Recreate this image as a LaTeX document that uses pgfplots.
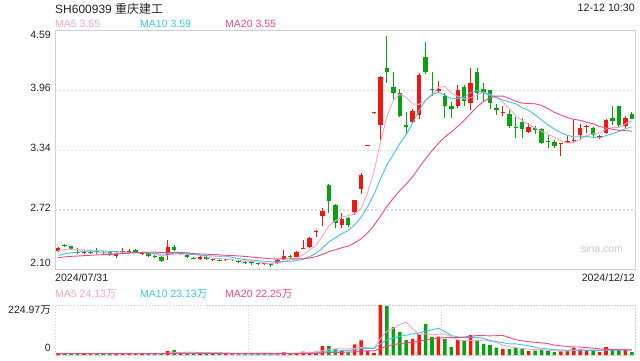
\documentclass[border=0pt]{standalone}
\usepackage{fontspec}
\setmainfont{Liberation Sans}
\newfontfamily\cjk{Noto Sans CJK SC}
\usepackage{pgfplots}
\pgfplotsset{compat=1.18}
\usepackage{pgfplotstable}
\definecolor{cred}{RGB}{240,24,16}
\definecolor{cgreen}{RGB}{10,160,20}
\definecolor{ma5}{RGB}{246,166,196}
\definecolor{ma10}{RGB}{64,196,228}
\definecolor{ma20}{RGB}{238,72,128}
\definecolor{frame}{RGB}{208,208,208}
\definecolor{gridc}{RGB}{222,222,222}
\definecolor{txt}{RGB}{35,35,35}

\pgfplotstableread{
x o h l c v
0 2.29 2.33 2.28 2.32 8
4 2.27 2.30 2.26 2.28 6
9 2.24 2.28 2.22 2.27 7
10 2.28 2.32 2.26 2.29 6
11 2.28 2.31 2.27 2.29 5
13 2.26 2.27 2.25 2.265 5
17 2.25 2.41 2.20 2.33 18
19 2.26 2.28 2.25 2.265 8
22 2.21 2.24 2.20 2.23 7
24 2.20 2.21 2.19 2.205 5
26 2.20 2.21 2.19 2.205 4
32 2.16 2.17 2.15 2.165 5
34 2.17 2.21 2.16 2.20 7
35 2.21 2.30 2.20 2.24 12
37 2.235 2.29 2.23 2.28 9
38 2.31 2.41 2.31 2.32 15
39 2.33 2.44 2.32 2.43 14
40 2.49 2.51 2.44 2.50 15
41 2.66 2.74 2.55 2.71 40
44 2.56 2.69 2.53 2.63 20
46 2.70 2.82 2.67 2.82 48
47 2.94 3.10 2.89 3.08 66
48 3.385 3.39 3.385 3.39 17
49 3.725 3.73 3.725 3.73 9
50 3.60 4.11 3.45 4.10 224.97
55 3.63 3.77 3.61 3.75 73
56 3.71 4.14 3.66 4.12 94
59 3.96 4.06 3.94 3.98 83
62 3.80 4.02 3.78 3.97 67
64 3.83 4.20 3.76 4.04 90
69 3.73 3.80 3.70 3.74 28
73 3.53 3.62 3.52 3.585 18
78 3.40 3.42 3.28 3.41 16
79 3.42 3.50 3.41 3.44 20
80 3.44 3.65 3.43 3.45 33
81 3.50 3.61 3.45 3.57 25
82 3.58 3.60 3.52 3.59 22
84 3.48 3.50 3.46 3.49 13
85 3.52 3.66 3.51 3.655 35
88 3.59 3.70 3.57 3.68 24
}\redtab

\pgfplotstableread{
x o h l c v
1 2.35 2.36 2.33 2.34 7
2 2.34 2.345 2.30 2.31 7
3 2.28 2.32 2.26 2.27 6
5 2.28 2.29 2.26 2.27 5
6 2.29 2.32 2.26 2.28 6
7 2.28 2.29 2.26 2.27 5
8 2.28 2.28 2.24 2.25 6
12 2.30 2.31 2.27 2.28 6
14 2.27 2.27 2.23 2.24 6
15 2.24 2.25 2.22 2.23 5
16 2.23 2.24 2.18 2.19 7
18 2.33 2.35 2.29 2.30 22
20 2.25 2.26 2.22 2.23 9
21 2.22 2.23 2.21 2.215 6
23 2.23 2.24 2.20 2.21 7
25 2.20 2.21 2.19 2.195 5
27 2.205 2.21 2.19 2.20 5
28 2.19 2.20 2.17 2.18 5
29 2.18 2.19 2.16 2.17 5
30 2.17 2.18 2.15 2.165 4
31 2.165 2.17 2.15 2.16 4
33 2.16 2.16 2.13 2.15 5
36 2.24 2.25 2.21 2.23 6
42 2.98 2.99 2.69 2.81 40
43 2.77 2.78 2.53 2.58 27
45 2.64 2.65 2.54 2.56 12
51 4.19 4.53 4.04 4.15 220
52 4.00 4.15 3.86 3.93 125
53 3.93 3.98 3.69 3.70 103
54 3.60 3.74 3.50 3.58 67
57 4.31 4.47 4.13 4.15 140
58 3.98 4.15 3.90 3.97 80
60 3.90 3.93 3.68 3.80 73
61 3.80 3.845 3.68 3.77 36
63 4.00 4.02 3.80 3.85 64
65 4.15 4.19 3.86 3.93 64
66 3.98 4.04 3.85 3.94 50
67 3.97 3.97 3.77 3.83 45
68 3.78 3.82 3.71 3.76 33
70 3.72 3.76 3.57 3.59 27
71 3.585 3.69 3.465 3.575 31
72 3.63 3.67 3.47 3.56 28
74 3.57 3.59 3.51 3.555 20
75 3.56 3.57 3.40 3.41 22
76 3.44 3.50 3.36 3.43 20
77 3.43 3.45 3.36 3.385 13
83 3.575 3.58 3.47 3.50 18
86 3.68 3.80 3.60 3.64 24
87 3.80 3.80 3.58 3.60 25
89 3.72 3.74 3.66 3.665 12.6
}\greentab

\pgfplotstableread{
x m5 m10 m20 v5 v10 v20
0 2.296 2.248 2.224 6.4 6.2 6.1
1 2.308 2.262 2.231 6.6 6.3 6.15
2 2.312 2.273 2.237 6.8 6.4 6.2
3 2.308 2.280 2.240 6.8 6.4 6.2
4 2.304 2.288 2.244 6.8 6.4 6.2
5 2.294 2.295 2.248 6.2 6.3 6.15
6 2.282 2.295 2.252 6.0 6.3 6.15
7 2.274 2.293 2.255 5.6 6.2 6.1
8 2.270 2.289 2.258 5.6 6.2 6.1
9 2.268 2.286 2.261 5.8 6.3 6.15
10 2.272 2.283 2.266 6.0 6.1 6.15
11 2.274 2.278 2.270 5.8 5.9 6.1
12 2.276 2.275 2.274 6.0 5.8 6.1
13 2.279 2.275 2.277 5.8 5.7 6.05
14 2.273 2.271 2.279 5.6 5.7 6.05
15 2.261 2.267 2.281 5.4 5.7 6.0
16 2.241 2.258 2.276 5.8 5.8 6.05
17 2.251 2.264 2.278 8.2 7.1 6.65
18 2.258 2.269 2.279 11.6 8.7 7.45
19 2.263 2.268 2.277 12.0 8.8 7.55
20 2.263 2.262 2.273 12.8 9.1 7.6
21 2.268 2.255 2.266 12.6 9.2 7.55
22 2.248 2.250 2.262 10.4 9.3 7.55
23 2.230 2.244 2.259 7.4 9.5 7.6
24 2.218 2.241 2.256 6.8 9.4 7.55
25 2.211 2.237 2.252 6.0 9.4 7.55
26 2.209 2.239 2.248 5.6 9.1 7.45
27 2.203 2.226 2.245 5.2 7.8 7.45
28 2.197 2.214 2.241 4.8 6.1 7.4
29 2.190 2.204 2.236 4.8 5.8 7.3
30 2.184 2.198 2.230 4.6 5.3 7.2
31 2.175 2.192 2.223 4.6 5.1 7.15
32 2.168 2.186 2.218 4.6 4.9 7.1
33 2.162 2.180 2.212 4.6 4.7 7.1
34 2.168 2.179 2.210 5.0 4.9 7.15
35 2.183 2.184 2.210 6.6 5.6 7.5
36 2.197 2.186 2.212 7.0 5.8 7.45
37 2.220 2.194 2.210 7.8 6.2 7.0
38 2.254 2.208 2.211 9.8 7.2 6.65
39 2.300 2.234 2.219 11.2 8.1 6.95
40 2.352 2.268 2.233 11.8 9.2 7.25
41 2.448 2.323 2.257 18.6 12.8 8.95
42 2.554 2.387 2.286 24.8 16.3 10.6
43 2.606 2.430 2.305 27.2 18.5 11.6
44 2.646 2.473 2.326 28.4 19.8 12.35
45 2.658 2.505 2.344 27.8 19.8 12.7
46 2.680 2.564 2.375 29.4 24.0 14.9
47 2.734 2.644 2.419 34.6 29.7 17.95
48 2.896 2.751 2.480 32.6 29.9 18.55
49 3.116 2.881 2.558 30.4 29.4 18.75
50 3.424 3.041 2.654 73.0 50.4 29.8
51 3.690 3.185 2.754 107.4 68.4 40.6
52 3.860 3.297 2.842 119.2 76.9 46.6
53 3.922 3.409 2.920 136.4 84.5 51.5
54 3.892 3.504 2.989 148.0 89.2 54.5
55 3.822 3.623 3.064 117.6 95.3 57.5
56 3.816 3.753 3.159 92.4 99.9 61.9
57 3.860 3.860 3.252 95.4 107.3 68.5
58 3.914 3.918 3.335 90.8 113.6 71.7
59 3.994 3.943 3.412 94.0 121.0 75.2
60 4.004 3.913 3.477 94.0 105.8 78.1
61 3.934 3.875 3.530 82.4 87.4 77.9
62 3.898 3.879 3.588 67.8 81.6 79.2
63 3.874 3.894 3.652 64.6 77.7 81.1
64 3.886 3.940 3.722 66.0 80.0 84.6
65 3.912 3.958 3.791 64.2 79.1 87.2
66 3.946 3.940 3.847 67.0 74.7 87.3
67 3.918 3.908 3.884 62.6 65.2 86.2
68 3.900 3.887 3.903 56.4 60.5 87.0
69 3.840 3.863 3.903 44.0 55.0 88.0
70 3.772 3.842 3.878 36.6 50.4 78.1
71 3.699 3.823 3.849 32.8 49.9 68.7
72 3.645 3.782 3.830 29.4 46.0 63.8
73 3.610 3.755 3.825 26.4 41.4 59.6
74 3.573 3.707 3.823 24.8 34.4 57.2
75 3.537 3.655 3.806 23.8 30.2 54.7
76 3.508 3.604 3.772 21.6 27.2 51.0
77 3.473 3.559 3.734 18.6 24.0 44.6
78 3.438 3.524 3.706 18.2 22.3 41.4
79 3.415 3.494 3.679 18.2 21.5 38.3
80 3.423 3.480 3.661 20.4 22.1 36.3
81 3.451 3.480 3.651 21.4 21.5 35.7
82 3.492 3.483 3.632 23.2 20.9 33.5
83 3.510 3.474 3.615 23.6 20.9 31.2
84 3.520 3.468 3.587 22.2 20.2 27.3
85 3.561 3.492 3.573 22.6 21.5 25.9
86 3.575 3.513 3.558 22.4 21.9 24.6
87 3.577 3.535 3.547 23.0 23.1 23.6
88 3.613 3.562 3.543 24.2 23.9 23.1
89 3.648 3.584 3.539 24.1 23.2 22.3
}\matab

\begin{document}
\begin{tikzpicture}
\path[use as bounding box] (0,0) rectangle (640pt,360pt);
\begin{axis}[at={(55pt,90.5pt)}, anchor=south west, scale only axis,
  width=580pt, height=239.5pt,
  xmin=-0.5, xmax=89.5, ymin=2.10, ymax=4.59,
  axis line style={draw=frame, line width=0.8pt},
  major tick length=0pt,
  ytick={2.10,2.72,3.34,3.96,4.59},
  yticklabels={\raisebox{2.75pt}{2.10},\raisebox{-1.75pt}{2.72},\raisebox{-1.45pt}{3.34},\raisebox{-1.15pt}{3.96},\raisebox{-8.25pt}{4.59}},
  yticklabel style={anchor=base east, inner sep=0pt, xshift=-4pt, font=\fontsize{10.5}{12}\selectfont, text=txt},
  extra y ticks={2.72,3.34,3.96}, extra y tick labels={},
  extra y tick style={grid=major, grid style={draw=gridc, line width=1.4pt, dash pattern=on 2pt off 2pt}},
  xtick={-0.5}, xticklabels={2024/07/31},
  xticklabel style={anchor=north west, inner sep=0pt, yshift=-4pt, font=\fontsize{10.6}{12}\selectfont, text=txt},
  extra x ticks={89.5}, extra x tick labels={2024/12/12},
  extra x tick style={xticklabel style={anchor=north east}},
]
% wicks
\addplot[draw=none, forget plot, error bars/.cd, y dir=plus, y explicit, error mark=none,
  error bar style={draw=cred, line width=1pt}]
  table[x=x, y=l, y error expr=\thisrow{h}-\thisrow{l}] {\redtab};
\addplot[draw=none, forget plot, error bars/.cd, y dir=plus, y explicit, error mark=none,
  error bar style={draw=cgreen, line width=1pt}]
  table[x=x, y=l, y error expr=\thisrow{h}-\thisrow{l}] {\greentab};
% bodies
\addplot[draw=none, forget plot, error bars/.cd, y dir=plus, y explicit, error mark=none,
  error bar style={draw=cred, line width=4.4pt}]
  table[x=x, y=o, y error expr={max(\thisrow{c}-\thisrow{o},0.009)}] {\redtab};
\addplot[draw=none, forget plot, error bars/.cd, y dir=plus, y explicit, error mark=none,
  error bar style={draw=cgreen, line width=4.4pt}]
  table[x=x, y=c, y error expr={max(\thisrow{o}-\thisrow{c},0.009)}] {\greentab};
% moving averages
\addplot[ma5, line width=0.9pt, mark=none] table[x=x, y=m5] {\matab};
\addplot[ma10, line width=0.9pt, mark=none] table[x=x, y=m10] {\matab};
\addplot[ma20, line width=0.9pt, mark=none] table[x=x, y=m20] {\matab};
\end{axis}

\begin{axis}[at={(55pt,5pt)}, anchor=south west, scale only axis,
  width=580pt, height=50pt,
  xmin=-0.5, xmax=89.5, ymin=0, ymax=224.97,
  axis line style={draw=frame, line width=0.9pt, dash pattern=on 1.5pt off 1.5pt},
  major tick length=0pt,
  xtick={29.5,59.5}, xticklabels={},
  xmajorgrids, grid style={draw=frame, line width=0.9pt, dash pattern=on 1.5pt off 1.5pt},
  ytick={0,224.97},
  yticklabels={\raisebox{3.25pt}{0},\raisebox{-8.75pt}{224.97{\cjk 万}}},
  yticklabel style={anchor=base east, inner sep=0pt, xshift=-4pt, font=\fontsize{10.5}{12}\selectfont, text=txt},
]
\addplot[ybar, bar width=3.6pt, bar shift=0pt, fill=cred, draw=none] table[x=x, y=v] {\redtab};
\addplot[ybar, bar width=3.6pt, bar shift=0pt, fill=cgreen, draw=none] table[x=x, y=v] {\greentab};
\addplot[ma5, line width=0.9pt, mark=none] table[x=x, y=v5] {\matab};
\addplot[ma10, line width=0.9pt, mark=none] table[x=x, y=v10] {\matab};
\addplot[ma20, line width=0.9pt, mark=none] table[x=x, y=v20] {\matab};
\end{axis}

\node[anchor=west, inner sep=0pt, font=\fontsize{12}{14}\selectfont, text=txt] at (55pt,351.5pt) {SH600939 {\cjk 重庆建工}};
\node[anchor=east, inner sep=0pt, font=\fontsize{10.7}{12}\selectfont, text=txt] at (635pt,352pt) {12-12 10:30};
\node[anchor=west, inner sep=0pt, font=\fontsize{10.5}{12}\selectfont, text=ma5] at (55pt,336pt) {MA5 3.65};
\node[anchor=west, inner sep=0pt, font=\fontsize{10.5}{12}\selectfont, text=ma10] at (140pt,336pt) {MA10 3.59};
\node[anchor=west, inner sep=0pt, font=\fontsize{10.5}{12}\selectfont, text=ma20] at (225pt,336pt) {MA20 3.55};
\node[anchor=west, inner sep=0pt, font=\fontsize{10.5}{12}\selectfont, text=ma5] at (55pt,66pt) {MA5 24.13{\cjk 万}};
\node[anchor=west, inner sep=0pt, font=\fontsize{10.5}{12}\selectfont, text=ma10] at (140pt,66pt) {MA10 23.13{\cjk 万}};
\node[anchor=west, inner sep=0pt, font=\fontsize{10.5}{12}\selectfont, text=ma20] at (225pt,66pt) {MA20 22.25{\cjk 万}};
\node[inner sep=0pt, font=\fontsize{10.5}{12}\selectfont, text=black!22] at (602pt,111pt) {sina.com};
\end{tikzpicture}
\end{document}
